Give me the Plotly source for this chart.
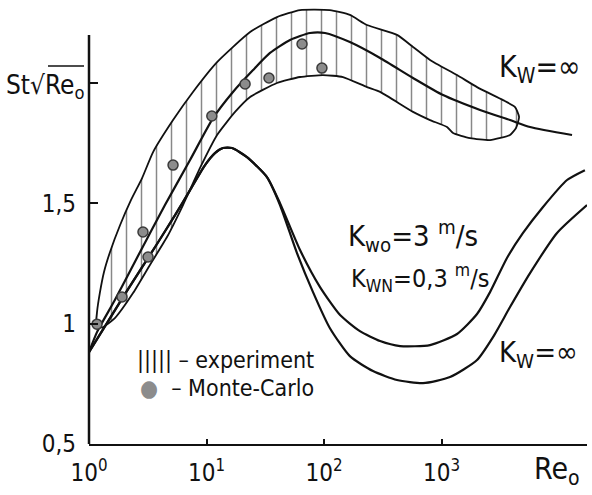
import plotly.graph_objects as go

# ---------------- data ----------------
# K_w = inf, curve running through the experimental band
re_band_line = [1.0, 1.17, 1.66, 2.72, 4.43, 7.24, 11.4, 16.8, 24.9, 34.7, 51.4, 76.0, 102, 166,
                300, 572, 1030, 2128, 3828, 5665, 12900]
st_band_line = [0.882, 0.965, 1.098, 1.298, 1.493, 1.680, 1.855, 1.963, 2.054, 2.125, 2.179, 2.208,
                2.208, 2.170, 2.104, 2.021, 1.950, 1.888, 1.846, 1.817, 1.784]

# K_w0 = 3 m/s, K_wN = 0.3 m/s
re_kw0 = [1.0, 2.02, 3.79, 5.40, 7.24, 9.71, 11.8, 13.8, 16.5, 22.1, 32.7, 42.2, 62.5, 92.5,
          137, 202, 300, 444, 798, 1355, 2005, 2587, 3606, 4939, 7307, 11700, 16600]
st_kw0 = [0.882, 1.123, 1.331, 1.451, 1.555, 1.659, 1.709, 1.730, 1.730, 1.692, 1.609, 1.501, 1.306,
          1.152, 1.036, 0.969, 0.928, 0.907, 0.911, 0.957, 1.040, 1.131, 1.273, 1.377, 1.485,
          1.597, 1.638]

# K_w = inf (lower theoretical curve)
re_kwinf = [1.0, 2.02, 3.79, 5.40, 7.24, 9.71, 11.8, 13.8, 16.5, 22.1, 32.7, 42.2, 58.9, 80.6,
            112, 166, 261, 418, 696, 1181, 2005, 2742, 3828, 5665, 9616, 17300]
st_kwinf = [0.882, 1.123, 1.331, 1.451, 1.555, 1.659, 1.709, 1.730, 1.730, 1.692, 1.609, 1.493, 1.293,
            1.131, 0.982, 0.865, 0.803, 0.766, 0.753, 0.778, 0.849, 0.944, 1.069, 1.210, 1.377,
            1.493]

# experimental band outline (upper edge left->right, then lower edge right->left)
re_band = [1.15, 1.17, 1.24, 1.34, 1.51, 1.84, 2.28, 2.83, 3.51, 5.19, 7.67, 12.3, 23.5, 39.8, 62.5,
           112, 166, 232, 418, 572, 798, 1355, 2005, 3337, 4224, 4571, 4306, 3828, 2587, 1749, 1253,
           1114, 798, 572, 300, 232, 145, 98.0, 62.5, 39.8, 23.5, 17.5, 12.3, 8.81, 6.31, 4.61, 3.30,
           2.37, 1.66, 1.32, 1.15]
st_band = [0.982, 1.048, 1.131, 1.214, 1.298, 1.410, 1.514, 1.605, 1.713, 1.846, 1.963, 2.087, 2.212,
           2.274, 2.303, 2.303, 2.283, 2.241, 2.200, 2.150, 2.096, 2.033, 1.983, 1.929, 1.900, 1.859,
           1.813, 1.784, 1.763, 1.771, 1.792, 1.817, 1.846, 1.880, 1.963, 1.983, 2.025, 2.033, 2.025,
           2.000, 1.942, 1.880, 1.784, 1.647, 1.493, 1.360, 1.244, 1.127, 1.023, 0.986, 0.982]

# Monte-Carlo points
re_mc = [1.17, 1.91, 2.88, 3.18, 5.19, 11.1, 21.3, 34.0, 65.0, 96.0]
st_mc = [0.998, 1.111, 1.381, 1.277, 1.659, 1.863, 1.996, 2.021, 2.162, 2.062]

x_tickvals = [1, 10, 100, 1000]
x_ticktext = ["10<sup>0</sup>", "10<sup>1</sup>", "10<sup>2</sup>", "10<sup>3</sup>"]
y_tickvals = [0.5, 1, 1.5, 2]
y_ticktext = ["0,5", "1", "1,5", ""]

# ---------------- figure ----------------
W, H = 592, 495
ML, MR, MT, MB = 89, 5, 0, 51
PW, PH = W - ML - MR, H - MT - MB

FONT = "DejaVu Sans Condensed, Liberation Sans Narrow, DejaVu Sans, sans-serif"
INK = "#111111"


def P(px, py):
    return (px - ML) / PW, (H - MB - py) / PH


fig = go.Figure()

fig.add_trace(go.Scatter(
    x=re_band, y=st_band, mode="lines", fill="toself",
    line=dict(color=INK, width=1.8, shape="spline", smoothing=0.5),
    fillcolor="rgba(0,0,0,0)",
    fillpattern=dict(shape="|", size=15, solidity=0.1, fgcolor=INK, bgcolor="white"),
    hoverinfo="skip", showlegend=False))

for xs, ys in [(re_band_line, st_band_line), (re_kw0, st_kw0), (re_kwinf, st_kwinf)]:
    fig.add_trace(go.Scatter(
        x=xs, y=ys, mode="lines",
        line=dict(color=INK, width=2.2, shape="spline", smoothing=0.6),
        showlegend=False))

fig.add_trace(go.Scatter(
    x=re_mc, y=st_mc, mode="markers",
    marker=dict(size=10, color="#8c8c8c", line=dict(color="#3a3a3a", width=1.5)),
    showlegend=False))

ann = []


def txt(px, py, text, size, xanchor="left", yanchor="middle"):
    x, y = P(px, py)
    ann.append(dict(x=x, y=y, xref="paper", yref="paper", text=text, showarrow=False,
                    xanchor=xanchor, yanchor=yanchor,
                    font=dict(family=FONT, size=size, color=INK)))


txt(86, 86, "St√Re<sub>o</sub>", 26, xanchor="right")
txt(540, 68, "K<sub>W</sub>=∞", 30, xanchor="center")
txt(346, 236, "K<sub>wo</sub>=3 <sup>m</sup>/s", 29)
txt(349, 278, "K<sub>WN</sub>=0,3 <sup>m</sup>/s", 25)
txt(497, 354, "K<sub>W</sub>=∞", 29)
txt(135, 360, "||||| – experiment", 23)
txt(138, 388, "<span style='color:#8c8c8c'>●</span>  – Monte-Carlo", 23)
txt(557, 470, "Re<sub>o</sub>", 30, xanchor="center")

shapes = [
    dict(type="line", xref="paper", yref="y", x0=0, x1=0, y0=0.5, y1=2.2,
         line=dict(color=INK, width=2.5)),
]
x0, y0 = P(48, 66)
x1, _ = P(84, 66)
shapes.append(dict(type="line", xref="paper", yref="paper", x0=x0, x1=x1, y0=y0, y1=y0,
                   line=dict(color=INK, width=1.5)))

fig.update_layout(
    width=W, height=H,
    margin=dict(l=ML, r=MR, t=MT, b=MB),
    paper_bgcolor="white", plot_bgcolor="white",
    showlegend=False,
    annotations=ann, shapes=shapes,
    xaxis=dict(type="log", range=[0, 4.238], showgrid=False, zeroline=False,
               showline=True, linecolor=INK, linewidth=2,
               ticks="inside", ticklen=5, tickwidth=1.5, tickcolor=INK,
               tickvals=x_tickvals, ticktext=x_ticktext, ticklabelstandoff=6,
               tickfont=dict(family=FONT, size=24, color=INK)),
    yaxis=dict(range=[0.5, 2.345], showgrid=False, zeroline=False, showline=False,
               ticks="inside", ticklen=9, tickwidth=1.5, tickcolor=INK,
               tickvals=y_tickvals, ticktext=y_ticktext, ticklabelstandoff=12,
               tickfont=dict(family=FONT, size=24, color=INK)),
)

fig.write_html("out.html")
